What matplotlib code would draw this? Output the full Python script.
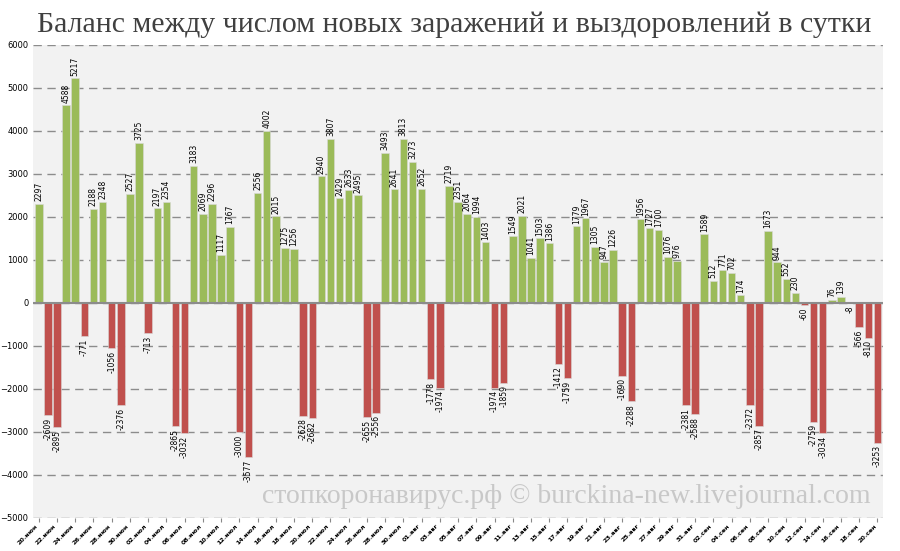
import matplotlib
matplotlib.use("Agg")
import matplotlib.pyplot as plt
import datetime as dt

months = {6: "июн", 7: "июл", 8: "авг", 9: "сен"}
values = [2297, -2609, -2895, 4588, 5217, -771, 2188, 2348, -1056, -2376,
          2527, 3725, -713, 2197, 2354, -2865, -3032, 3183, 2069, 2296,
          1117, 1767, -3000, -3577, 2556, 4002, 2015, 1275, 1256, -2628,
          -2682, 2940, 3807, 2429, 2633, 2495, -2655, -2556, 3493, 2641,
          3813, 3273, 2652, -1778, -1974, 2719, 2351, 2064, 1994, 1403,
          -1974, -1859, 1549, 2021, 1041, 1503, 1386, -1412, -1759, 1779,
          1967, 1305, 947, 1226, -1690, -2288, 1956, 1727, 1700, 1076,
          976, -2381, -2588, 1589, 512, 771, 702, 174, -2372, -2857,
          1673, 944, 552, 230, -60, -2759, -3034, 76, 139, -8,
          -566, -810, -3253]
start = dt.date(2020, 6, 20)
dates = [start + dt.timedelta(days=i) for i in range(len(values))]
labels = [f"{d.day:02d}.{months[d.month]}" for d in dates]

fig = plt.figure(figsize=(9, 5.51), dpi=100)
fig.patch.set_facecolor("white")
ax = fig.add_axes([0.037, 0.06, 0.944, 0.859])
ax.set_facecolor("#f2f2f2")
x = list(range(len(values)))
cols = ["#9bbb59" if v >= 0 else "#c0504d" for v in values]
ax.bar(x, values, width=0.82, color=cols, edgecolor="#d8d8d8", linewidth=0.4, zorder=3)
for i, v in enumerate(values):
    if v >= 0:
        ax.text(i, v + 60, str(v), rotation=90, ha="center", va="bottom", fontsize=5.5, zorder=4)
    else:
        ax.text(i, v - 60, str(v), rotation=90, ha="center", va="top", fontsize=5.5, zorder=4)
ax.set_ylim(-5000, 6000)
ax.set_xlim(-0.6, len(values) - 0.4)
ax.set_yticks(range(-5000, 6001, 1000))
ax.tick_params(axis="y", labelsize=6, length=0)
ax.set_xticks(x[::2])
ax.set_xticklabels(labels[::2], rotation=45, ha="right", fontsize=4.6, fontweight="bold")
ax.tick_params(axis="x", length=3, color="#888888", pad=1)
ax.yaxis.grid(True, linestyle=(0, (6, 4)), color="#8c8c8c", linewidth=1, zorder=0)
ax.axhline(0, color="#8c8c8c", linewidth=1.5, zorder=5)
for s in ax.spines.values():
    s.set_visible(False)
fig.text(0.505, 0.955, "Баланс между числом новых заражений и выздоровлений в сутки",
         ha="center", va="center", fontsize=21.5, family="Liberation Serif", color="#404040")
ax.text(0.985, -4500, "стопкоронавирус.рф © burckina-new.livejournal.com",
        transform=ax.get_yaxis_transform(), ha="right", va="center",
        fontsize=20, family="Liberation Serif", color="#c8c8c8", zorder=2)
fig.savefig("out.png", dpi=100)
